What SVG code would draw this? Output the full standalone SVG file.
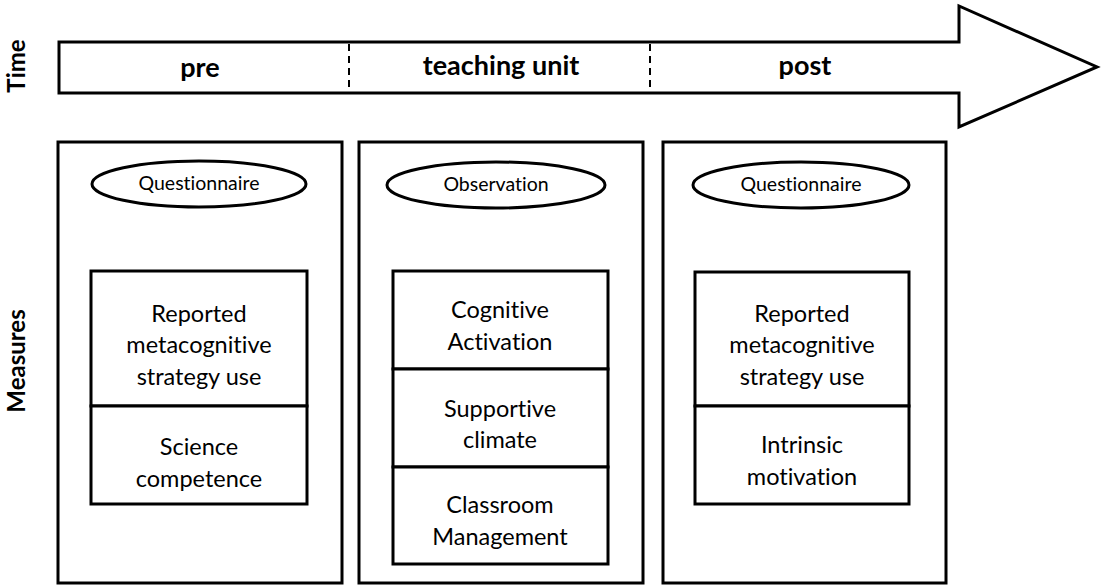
<svg xmlns="http://www.w3.org/2000/svg" width="1104" height="586" viewBox="0 0 1104 586">
<style>
text{font-family:Lato,"Open Sans",sans-serif;fill:#000;text-anchor:middle;font-variant-ligatures:none}
.b{fill:#fff;stroke:#000;stroke-width:3}
.d{stroke:#000;stroke-width:2;stroke-dasharray:7,5;fill:none}
.h{font-weight:bold;font-size:27px}
.v{font-weight:bold;font-size:24px}
.e{font-size:19.5px}
.t{font-size:23.5px}
</style>
<rect width="1104" height="586" fill="#fff"/>
<g id="axis-labels">
<text class="v" transform="translate(25,66) rotate(-90)">Time</text>
<text class="v" transform="translate(25,361) rotate(-90)">Measures</text>
</g>
<g id="time-arrow">
<path class="b" d="M59,42 H959 V6 L1097,67 L959,127 V93 H59 Z"/>
<text class="h" x="200" y="77">pre</text>
<text class="h" x="501" y="75">teaching unit</text>
<text class="h" x="805" y="75">post</text>
</g>
<g id="connectors">
<line class="d" x1="349" y1="44" x2="349" y2="92"/>
<line class="d" x1="650" y1="44" x2="650" y2="92"/>
</g>
<g id="panel-pre">
<rect class="b" x="58" y="142" width="284" height="441"/>
<ellipse class="b" cx="199" cy="184" rx="107" ry="23"/>
<text class="e" x="199" y="190">Questionnaire</text>
<rect class="b" x="91" y="271" width="216" height="135"/>
<rect class="b" x="91" y="406" width="216" height="98"/>
<text class="t" x="199" y="322">Reported</text>
<text class="t" x="199" y="353">metacognitive</text>
<text class="t" x="199" y="385">strategy use</text>
<text class="t" x="199" y="455">Science</text>
<text class="t" x="199" y="487">competence</text>
</g>
<g id="panel-teaching">
<rect class="b" x="359" y="142" width="284" height="441"/>
<ellipse class="b" cx="496" cy="185" rx="109" ry="23"/>
<text class="e" x="496" y="191">Observation</text>
<rect class="b" x="393" y="271" width="215" height="98"/>
<rect class="b" x="393" y="369" width="215" height="98"/>
<rect class="b" x="393" y="467" width="215" height="97"/>
<text class="t" x="500" y="318">Cognitive</text>
<text class="t" x="500" y="350">Activation</text>
<text class="t" x="500" y="417">Supportive</text>
<text class="t" x="500" y="448">climate</text>
<text class="t" x="500" y="513">Classroom</text>
<text class="t" x="500" y="545">Management</text>
</g>
<g id="panel-post">
<rect class="b" x="663" y="142" width="283" height="441"/>
<ellipse class="b" cx="801" cy="185" rx="108" ry="23"/>
<text class="e" x="801" y="191">Questionnaire</text>
<rect class="b" x="695" y="272" width="214" height="134"/>
<rect class="b" x="695" y="406" width="214" height="98"/>
<text class="t" x="802" y="322">Reported</text>
<text class="t" x="802" y="353">metacognitive</text>
<text class="t" x="802" y="385">strategy use</text>
<text class="t" x="802" y="453">Intrinsic</text>
<text class="t" x="802" y="485">motivation</text>
</g>
</svg>
